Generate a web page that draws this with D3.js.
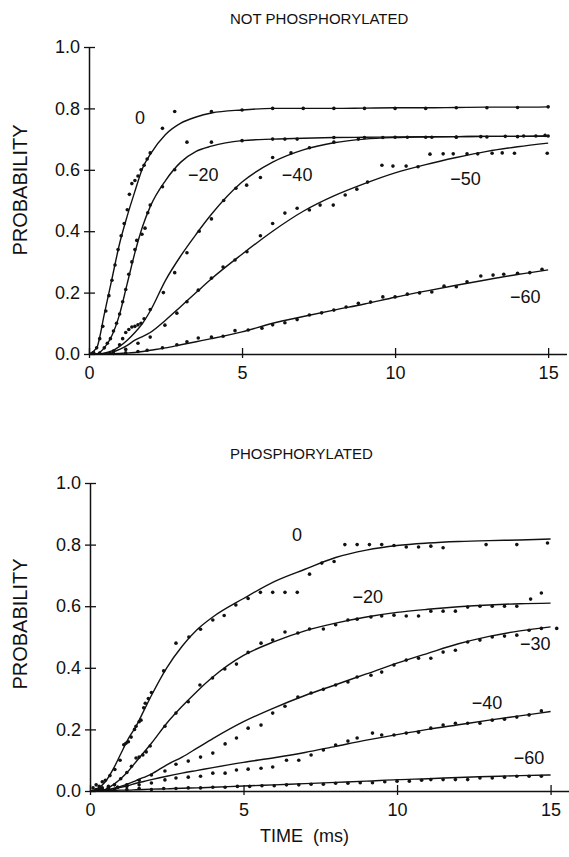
<!DOCTYPE html>
<html>
<head>
<meta charset="utf-8">
<script src="https://cdn.jsdelivr.net/npm/d3@7/dist/d3.min.js"></script>
<style>
  body { margin: 0; background: #fff; }
  text { font-family: "Liberation Sans", Arial, sans-serif; fill: #111; }
</style>
</head>
<body>
<svg id="chart" width="569" height="857"></svg>
<script>
// tider (ms) for de tilpassede kurver
const fitTimes = [0, 0.25, 0.5, 0.75, 1, 1.25, 1.5, 1.75, 2, 2.5, 3, 3.5, 4, 5, 6, 7, 8, 9, 10, 11, 12, 13, 14, 15];

// NOT PHOSPHORYLATED - kurver
const topFit0  = [0, 0.02, 0.13, 0.245, 0.36, 0.45, 0.53, 0.605, 0.65, 0.715, 0.752, 0.772, 0.785, 0.795, 0.8, 0.8, 0.8, 0.801, 0.802, 0.802, 0.803, 0.804, 0.804, 0.805];
const topFit20 = [0, 0.001, 0.02, 0.06, 0.13, 0.23, 0.33, 0.415, 0.48, 0.565, 0.625, 0.66, 0.677, 0.695, 0.7, 0.703, 0.705, 0.706, 0.707, 0.708, 0.708, 0.709, 0.709, 0.71];
const topFit40 = [0, 0, 0.003, 0.01, 0.025, 0.045, 0.07, 0.1, 0.14, 0.24, 0.32, 0.39, 0.455, 0.56, 0.625, 0.665, 0.688, 0.7, 0.705, 0.707, 0.708, 0.709, 0.709, 0.71];
const topFit50 = [0, 0, 0.002, 0.006, 0.015, 0.028, 0.045, 0.057, 0.07, 0.11, 0.155, 0.2, 0.245, 0.325, 0.4, 0.465, 0.515, 0.555, 0.59, 0.617, 0.64, 0.66, 0.675, 0.687];
const topFit60 = [0, 0, 0, 0.001, 0.002, 0.003, 0.005, 0.008, 0.012, 0.02, 0.03, 0.04, 0.05, 0.072, 0.1, 0.122, 0.143, 0.163, 0.185, 0.205, 0.224, 0.242, 0.259, 0.274];

// NOT PHOSPHORYLATED - målte punkter [tid, sandsynlighed]
const topDots0 = [[0.15,0.005],[0.25,0.02],[0.35,0.05],[0.45,0.09],[0.55,0.14],[0.65,0.19],[0.75,0.24],[0.85,0.29],[0.95,0.34],[1.05,0.385],[1.15,0.425],[1.25,0.47],[1.32,0.52],[1.4,0.555],[1.5,0.565],[1.6,0.58],[1.7,0.6],[1.8,0.615],[1.9,0.635],[2.0,0.655],[2.4,0.735],[2.8,0.79],[4.0,0.79],[5,0.795],[6,0.8],[7,0.8],[8,0.8],[9,0.8],[10,0.8],[11,0.8],[12,0.802],[13,0.802],[14,0.803],[15,0.805]];
const topDots20 = [[0.35,0.003],[0.5,0.02],[0.6,0.035],[0.7,0.05],[0.8,0.075],[0.9,0.1],[1.0,0.13],[1.1,0.17],[1.2,0.21],[1.3,0.26],[1.4,0.3],[1.5,0.34],[1.56,0.37],[1.73,0.39],[1.83,0.41],[1.92,0.46],[2.0,0.485],[2.4,0.545],[2.8,0.6],[3.2,0.69],[4.0,0.69],[5.0,0.695],[6.0,0.7],[6.4,0.7],[6.8,0.7],[8,0.705],[9,0.705],[10,0.706],[11,0.706],[12,0.706],[13,0.707],[14,0.708],[15,0.71]];
const topDots40 = [[0.8,0.01],[1.0,0.03],[1.1,0.05],[1.2,0.07],[1.3,0.08],[1.4,0.088],[1.5,0.09],[1.6,0.095],[1.7,0.1],[1.8,0.115],[2.0,0.145],[2.43,0.2],[2.8,0.265],[3.2,0.33],[3.6,0.4],[4.0,0.44],[4.4,0.5],[4.8,0.54],[5.15,0.55],[5.6,0.575],[6.0,0.64],[6.6,0.655],[7.2,0.672],[8.0,0.69],[8.8,0.7],[9.6,0.705],[10.4,0.706],[11.2,0.706],[12.0,0.707],[12.8,0.708],[13.6,0.709],[14.2,0.71],[14.6,0.71],[14.9,0.712]];
const topDots50 = [[1.2,0.015],[1.6,0.035],[2.0,0.055],[2.48,0.094],[2.87,0.133],[3.2,0.17],[3.57,0.208],[4.0,0.247],[4.38,0.283],[4.77,0.306],[5.16,0.333],[5.6,0.385],[6.0,0.425],[6.4,0.459],[6.8,0.475],[7.2,0.469],[7.55,0.485],[7.98,0.485],[8.37,0.518],[8.75,0.537],[9.1,0.56],[9.57,0.615],[9.93,0.612],[10.36,0.612],[10.75,0.61],[11.14,0.651],[11.57,0.652],[11.9,0.652],[12.35,0.652],[12.7,0.652],[13.17,0.654],[13.5,0.655],[13.9,0.654],[14.97,0.654]];
const topDots60 = [[0.8,0.002],[1.2,0.004],[1.6,0.008],[1.9,0.012],[2.4,0.02],[2.87,0.03],[3.2,0.04],[3.57,0.052],[4.0,0.055],[4.38,0.058],[4.77,0.076],[5.2,0.078],[5.65,0.084],[6.0,0.095],[6.4,0.102],[6.8,0.112],[7.2,0.127],[7.6,0.134],[8.0,0.143],[8.4,0.153],[8.8,0.165],[9.2,0.169],[9.6,0.186],[10.0,0.186],[10.4,0.195],[10.8,0.199],[11.2,0.202],[11.6,0.221],[12.0,0.219],[12.35,0.235],[12.8,0.254],[13.2,0.257],[13.55,0.26],[14.0,0.263],[14.4,0.265],[14.8,0.276]];

// PHOSPHORYLATED - kurver
const botFit0  = [0, 0.008, 0.03, 0.07, 0.12, 0.17, 0.21, 0.26, 0.31, 0.4, 0.47, 0.525, 0.565, 0.625, 0.68, 0.72, 0.758, 0.782, 0.797, 0.805, 0.81, 0.813, 0.815, 0.818];
const botFit20 = [0, 0.001, 0.005, 0.02, 0.04, 0.065, 0.095, 0.125, 0.155, 0.22, 0.275, 0.325, 0.37, 0.44, 0.485, 0.52, 0.545, 0.565, 0.58, 0.59, 0.598, 0.604, 0.608, 0.61];
const botFit30 = [0, 0, 0.002, 0.008, 0.015, 0.024, 0.034, 0.044, 0.055, 0.085, 0.11, 0.14, 0.17, 0.225, 0.27, 0.31, 0.345, 0.38, 0.415, 0.447, 0.478, 0.502, 0.52, 0.533];
const botFit40 = [0, 0.001, 0.003, 0.007, 0.012, 0.018, 0.025, 0.031, 0.037, 0.048, 0.058, 0.067, 0.076, 0.093, 0.108, 0.125, 0.145, 0.165, 0.183, 0.2, 0.215, 0.23, 0.244, 0.258];
const botFit60 = [0, 0, 0.001, 0.002, 0.003, 0.003, 0.004, 0.005, 0.006, 0.007, 0.009, 0.01, 0.012, 0.016, 0.02, 0.024, 0.028, 0.032, 0.037, 0.04, 0.044, 0.047, 0.05, 0.052];

// PHOSPHORYLATED - målte punkter
const botDots0 = [[0.1,0.01],[0.2,0.02],[0.3,0.015],[0.4,0.03],[0.5,0.035],[0.65,0.05],[0.81,0.07],[0.98,0.1],[1.1,0.15],[1.17,0.155],[1.25,0.16],[1.34,0.175],[1.45,0.2],[1.5,0.21],[1.6,0.225],[1.66,0.23],[1.75,0.27],[1.8,0.285],[1.9,0.3],[2.0,0.32],[2.4,0.39],[2.8,0.48],[3.22,0.5],[3.6,0.525],[4.0,0.555],[4.37,0.57],[4.75,0.604],[5.15,0.625],[5.55,0.645],[5.95,0.645],[6.35,0.645],[6.75,0.645],[7.15,0.704],[7.55,0.74],[7.95,0.745],[8.3,0.8],[8.7,0.8],[9.1,0.8],[9.5,0.8],[9.9,0.797],[10.3,0.792],[10.7,0.792],[11.1,0.795],[11.5,0.79],[12.9,0.8],[13.9,0.8],[14.9,0.805]];
const botDots20 = [[0.2,0.005],[0.4,0.01],[0.6,0.015],[0.8,0.02],[1.0,0.04],[1.2,0.06],[1.35,0.08],[1.5,0.107],[1.6,0.11],[1.72,0.117],[1.83,0.127],[1.96,0.146],[2.44,0.21],[2.8,0.253],[3.2,0.29],[3.58,0.344],[3.99,0.367],[4.39,0.396],[4.77,0.412],[5.15,0.45],[5.57,0.48],[5.95,0.49],[6.35,0.516],[6.77,0.513],[7.15,0.526],[7.6,0.526],[8.0,0.54],[8.4,0.555],[8.7,0.558],[9.15,0.565],[9.5,0.568],[9.9,0.571],[10.3,0.568],[10.7,0.568],[11.1,0.584],[11.5,0.584],[11.9,0.584],[12.3,0.597],[12.7,0.6],[13.1,0.6],[13.5,0.6],[13.9,0.6],[14.35,0.623],[14.7,0.643]];
const botDots30 = [[0.3,0.005],[0.6,0.01],[0.9,0.012],[1.2,0.02],[1.6,0.035],[2.0,0.052],[2.44,0.065],[2.8,0.087],[3.2,0.097],[3.6,0.11],[4.0,0.123],[4.4,0.153],[4.77,0.172],[5.15,0.204],[5.57,0.214],[5.95,0.253],[6.35,0.275],[6.77,0.305],[7.2,0.318],[7.6,0.33],[8.0,0.344],[8.4,0.354],[8.7,0.37],[9.15,0.376],[9.5,0.386],[9.9,0.409],[10.3,0.425],[10.7,0.431],[11.1,0.431],[11.5,0.451],[11.9,0.457],[12.3,0.484],[12.7,0.49],[13.1,0.5],[13.5,0.503],[13.9,0.506],[14.3,0.522],[14.7,0.528],[15.2,0.528]];
const botDots40 = [[0.3,0.008],[0.6,0.01],[0.9,0.012],[1.2,0.015],[1.6,0.02],[2.0,0.026],[2.44,0.036],[2.8,0.042],[3.2,0.045],[3.6,0.048],[4.0,0.058],[4.4,0.058],[4.77,0.068],[5.15,0.071],[5.57,0.074],[5.95,0.078],[6.4,0.1],[6.8,0.1],[7.2,0.117],[7.6,0.133],[8.0,0.149],[8.4,0.162],[8.7,0.172],[9.2,0.188],[9.5,0.182],[9.9,0.182],[10.3,0.188],[10.7,0.191],[11.1,0.204],[11.5,0.214],[11.9,0.22],[12.3,0.22],[12.7,0.22],[13.1,0.23],[13.5,0.233],[13.9,0.24],[14.3,0.247],[14.7,0.26]];
const botDots60 = [[0.4,0.005],[0.8,0.005],[1.2,0.005],[1.6,0.008],[2.0,0.005],[2.4,0.008],[2.8,0.008],[3.2,0.01],[3.6,0.01],[4.0,0.012],[4.4,0.012],[4.8,0.015],[5.2,0.015],[5.6,0.017],[6.0,0.017],[6.4,0.02],[6.8,0.02],[7.2,0.022],[7.6,0.022],[8.0,0.025],[8.4,0.025],[8.8,0.027],[9.2,0.027],[9.6,0.03],[10.0,0.032],[10.4,0.032],[10.8,0.035],[11.1,0.037],[11.5,0.037],[11.9,0.037],[12.3,0.037],[12.7,0.042],[13.1,0.042],[13.5,0.045],[13.9,0.048],[14.3,0.048],[14.7,0.048]];

// kurvenavne (mV)
const topNames = ["0", "\u221220", "\u221240", "\u221250", "\u221260"];
const botNames = ["0", "\u221220", "\u221230", "\u221240", "\u221260"];

// hvor navnene står, i data-enheder [tid, sandsynlighed]
const topNameAt = [[1.67, 0.77], [3.73, 0.583], [6.8, 0.583], [12.3, 0.57], [14.25, 0.186]];
const botNameAt = [[6.74, 0.83], [9.05, 0.63], [14.5, 0.477], [12.93, 0.286], [14.3, 0.107]];

const yTicks = [0, 0.2, 0.4, 0.6, 0.8, 1.0];
const xTicks = [0, 5, 10, 15];

const svg = d3.select("#chart");

function drawPanel(p) {
  const x = d3.scaleLinear().domain([0, 15.6]).range(p.xr);
  const y = d3.scaleLinear().domain([0, 1]).range(p.yr);
  const g = svg.append("g");

  // akser
  const yAxis = d3.axisLeft(y).tickValues(yTicks).tickFormat(d3.format(".1f"))
    .tickSizeInner(5).tickSizeOuter(0).tickPadding(4);
  const ya = g.append("g").attr("transform", `translate(${p.xr[0]},0)`).call(yAxis);
  ya.selectAll(".tick line").attr("x1", 6);

  const xAxis = d3.axisBottom(x).tickValues(xTicks).tickFormat(d3.format("d"))
    .tickSizeInner(4).tickSizeOuter(0).tickPadding(8);
  const xa = g.append("g").attr("transform", `translate(0,${p.yr[0]})`).call(xAxis);
  xa.selectAll(".tick line").attr("y1", -6);

  g.selectAll(".domain").attr("stroke", "#111").attr("stroke-width", 1.5);
  g.selectAll(".tick line").attr("stroke", "#111").attr("stroke-width", 1.3);
  g.selectAll(".tick text").attr("font-size", 18).attr("fill", "#111")
    .style("font-family", "'Liberation Sans', Arial, sans-serif");

  const line = d3.line()
    .x((d, i) => x(fitTimes[i]))
    .y(d => y(d))
    .curve(d3.curveMonotoneX);

  p.fits.forEach(f => {
    g.append("path").attr("d", line(f))
      .attr("fill", "none").attr("stroke", "#111").attr("stroke-width", 1.4);
  });

  p.dots.forEach(ds => {
    g.selectAll(null).data(ds).join("circle")
      .attr("cx", d => x(d[0])).attr("cy", d => y(d[1]))
      .attr("r", 1.8).attr("fill", "#111");
  });

  g.selectAll(null).data(p.names).join("text")
    .attr("x", (d, i) => x(p.nameAt[i][0]))
    .attr("y", (d, i) => y(p.nameAt[i][1]))
    .attr("text-anchor", "middle").attr("dominant-baseline", "central")
    .attr("font-size", 18).text(d => d);

  g.append("text").attr("x", 230).attr("y", p.titleY)
    .attr("dominant-baseline", "central").attr("font-size", 15).text(p.title);

  g.append("text")
    .attr("transform", `translate(20,${p.labelY}) rotate(-90)`)
    .attr("text-anchor", "middle").attr("dominant-baseline", "central")
    .attr("font-size", 20).text("PROBABILITY");
}

drawPanel({
  xr: [89, 566.5], yr: [354, 47],
  fits: [topFit0, topFit20, topFit40, topFit50, topFit60],
  dots: [topDots0, topDots20, topDots40, topDots50, topDots60],
  names: topNames, nameAt: topNameAt,
  title: "NOT PHOSPHORYLATED", titleY: 18, labelY: 190
});

drawPanel({
  xr: [90, 569], yr: [791, 483],
  fits: [botFit0, botFit20, botFit30, botFit40, botFit60],
  dots: [botDots0, botDots20, botDots30, botDots40, botDots60],
  names: botNames, nameAt: botNameAt,
  title: "PHOSPHORYLATED", titleY: 453, labelY: 624
});

svg.append("text").attr("x", 260).attr("y", 836)
  .attr("dominant-baseline", "central").attr("font-size", 18)
  .attr("xml:space", "preserve").style("white-space", "pre")
  .text("TIME  (ms)");
</script>
</body>
</html>
